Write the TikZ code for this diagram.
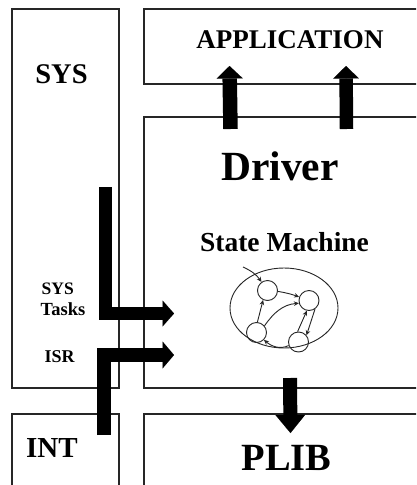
\documentclass[tikz,border=0pt]{standalone}
\usepackage{fontspec}
\setmainfont{Liberation Serif}
\usetikzlibrary{arrows.meta,shapes.geometric}
\begin{document}
\begin{tikzpicture}[x=1pt,y=1pt,
  box/.style={draw=black!85, line width=1.3pt},
  lbl/.style={inner sep=0pt, font=\bfseries},
  bigarrow/.style={line width=#1, line join=miter, draw=black},
  st/.style={circle, draw=black!85, line width=0.9pt, minimum size=20pt, inner sep=0pt},
  sm/.style={draw=black!85, line width=0.9pt, -{Stealth[length=5pt,width=4.5pt]}}
]
\useasboundingbox (0,-485) rectangle (416,0);
\fill[white] (0,-485) rectangle (416,0);
\begin{scope}
\clip (0,-485) rectangle (416,0);
% boxes
\draw[box] (12,-9) rectangle (119,-388);
\draw[box] (12,-414) rectangle (119,-500);
\draw[box] (144,-9) rectangle (430,-84);
\draw[box] (144,-117) rectangle (430,-388);
\draw[box] (144,-414) rectangle (430,-500);
\end{scope}

% labels
\node[lbl, anchor=base] (app) at (290,-48.5) {\fontsize{27}{27}\selectfont APPLICATION};
\node[lbl, anchor=base] (sys) at (61.5,-83) {\fontsize{28.5}{28.5}\selectfont SYS};
\node[lbl, anchor=base] (drv) at (280,-180) {\fontsize{41.5}{41.5}\selectfont Driver};
\node[lbl, anchor=base] (smt) at (284.5,-251.5) {\fontsize{27.5}{27.5}\selectfont State Machine};
\node[lbl, anchor=base] (plib) at (286.5,-470) {\fontsize{38.5}{38.5}\selectfont PLIB};
\node[lbl, anchor=base] (int) at (52,-457) {\fontsize{29}{29}\selectfont INT};
\node[lbl, anchor=base west] (syst1) at (41.5,-294) {\fontsize{17.5}{17.5}\selectfont SYS};
\node[lbl, anchor=base west] (syst2) at (40.5,-315) {\fontsize{18.5}{18.5}\selectfont Tasks};
\node[lbl, anchor=base west] (isr) at (44.5,-362) {\fontsize{18}{18}\selectfont ISR};

% big arrow coordinates
\coordinate (sysA) at (105.5,-187);
\coordinate (sysB) at (105.5,-313.5);
\coordinate (sysC) at (174,-313.5);
\coordinate (isrA) at (104,-435);
\coordinate (isrB) at (104,-355);
\coordinate (isrC) at (174,-355);
\coordinate (ap1A) at (230.5,-129);
\coordinate (ap1B) at (229.5,-66);
\coordinate (ap2A) at (346.5,-129);
\coordinate (ap2B) at (346,-66);
\coordinate (plA) at (290,-378);
\coordinate (plB) at (290.5,-433);

\draw[bigarrow=13pt, -{Triangle[length=11.5pt,width=26pt,line width=0.01pt]}] (sysA) -- (sysB) -- (sysC);
\draw[bigarrow=13.5pt, -{Triangle[length=11.5pt,width=27pt,line width=0.01pt]}] (isrA) -- (isrB) -- (isrC);
\draw[bigarrow=14.5pt, -{Triangle[length=12.5pt,width=26pt,line width=0.01pt]}] (ap1A) -- (ap1B);
\draw[bigarrow=13.5pt, -{Triangle[length=12.5pt,width=25.5pt,line width=0.01pt]}] (ap2A) -- (ap2B);
\draw[bigarrow=14pt, -{Triangle[length=18pt,width=29.5pt,line width=0.01pt]}] (plA) -- (plB);

% state machine
\node[ellipse, draw=black!85, line width=0.9pt, minimum width=108pt, minimum height=80pt, inner sep=0pt] (ell) at (284,-308) {};
\node[st] (c1) at (267.5,-290.5) {};
\node[st] (c2) at (309,-300.5) {};
\node[st] (c3) at (256.5,-332.5) {};
\node[st] (c4) at (298.5,-342) {};
\coordinate (inS) at (243,-267);
\draw[sm] (inS) to[out=-25,in=125] (c1.125);
\draw[sm] (c1.-5) to[bend left=5] (c2.160);
\draw[sm] (c3.85) -- (c1.245);
\draw[sm] (c3.40) to[out=55,in=185] (c2.195);
\draw[sm] (c4.95) -- (c2.258);
\draw[sm] (c2.-55) -- (c4.40);
\draw[sm] (c4.200) to[out=205,in=-40] (c3.-45);
\end{tikzpicture}
\end{document}
